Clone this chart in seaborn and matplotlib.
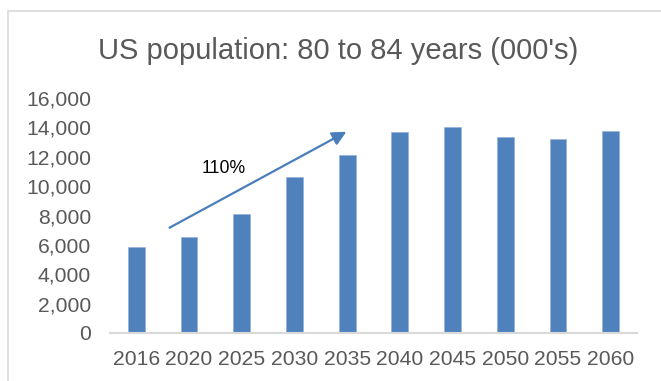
import matplotlib
matplotlib.use("Agg")
import matplotlib.pyplot as plt
import seaborn as sns
import pandas as pd
from matplotlib.patches import Rectangle

years = ["2016", "2020", "2025", "2030", "2035", "2040", "2045", "2050", "2055", "2060"]
population = [5870, 6530, 8120, 10600, 12120, 13680, 14020, 13320, 13180, 13770]
yticks = [0, 2000, 4000, 6000, 8000, 10000, 12000, 14000, 16000]
title = "US population: 80 to 84 years (000's)"
growth_label = "110%"

sns.set_theme(style="white")
plt.rcParams["font.family"] = ["Liberation Sans", "DejaVu Sans"]

df = pd.DataFrame({"year": years, "pop": population})

fig = plt.figure(figsize=(6.61, 3.81), dpi=100)
ax = fig.add_axes([110 / 661, 1 - 333 / 381, 527 / 661, (333 - 98) / 381])

sns.barplot(data=df, x="year", y="pop", color="#4F81BD", saturation=1,
            width=0.32, ax=ax, edgecolor="#8FAEDA", linewidth=0.4)

ax.set_ylim(0, 16000)
ax.set_xlim(-0.5, len(years) - 0.5)
ax.set_yticks(yticks)
ax.set_yticklabels([f"{v:,}" for v in yticks])
ax.set_xlabel("")
ax.set_ylabel("")
ax.tick_params(axis="both", length=0, labelsize=15.2, colors="#595959")
ax.tick_params(axis="y", pad=13.5)
ax.tick_params(axis="x", pad=12)
for s in ["top", "right", "left"]:
    ax.spines[s].set_visible(False)
ax.spines["bottom"].set_color("#D9D9D9")
ax.spines["bottom"].set_linewidth(1.5)

# growth arrow
ax.annotate("", xy=(3.985, 13700), xytext=(0.63, 7170),
            arrowprops=dict(arrowstyle="-|>,head_length=0.7,head_width=0.35",
                            color="#4A7EBB", lw=1.6, shrinkA=0, shrinkB=0))
ax.text(1.65, 11200, growth_label, ha="center", va="center", fontsize=12.7, color="#000000")

fig.text(338 / 661, 1 - 59 / 381, title, ha="center", va="baseline",
         fontsize=21, color="#595959")

# chart border
fig.patches.append(Rectangle((8 / 661, -0.05), 1.0, 1 - 11 / 381 + 0.05,
                             transform=fig.transFigure, fill=False,
                             edgecolor="#D9D9D9", linewidth=1.2, clip_on=False))

fig.savefig("out.png", dpi=100)
